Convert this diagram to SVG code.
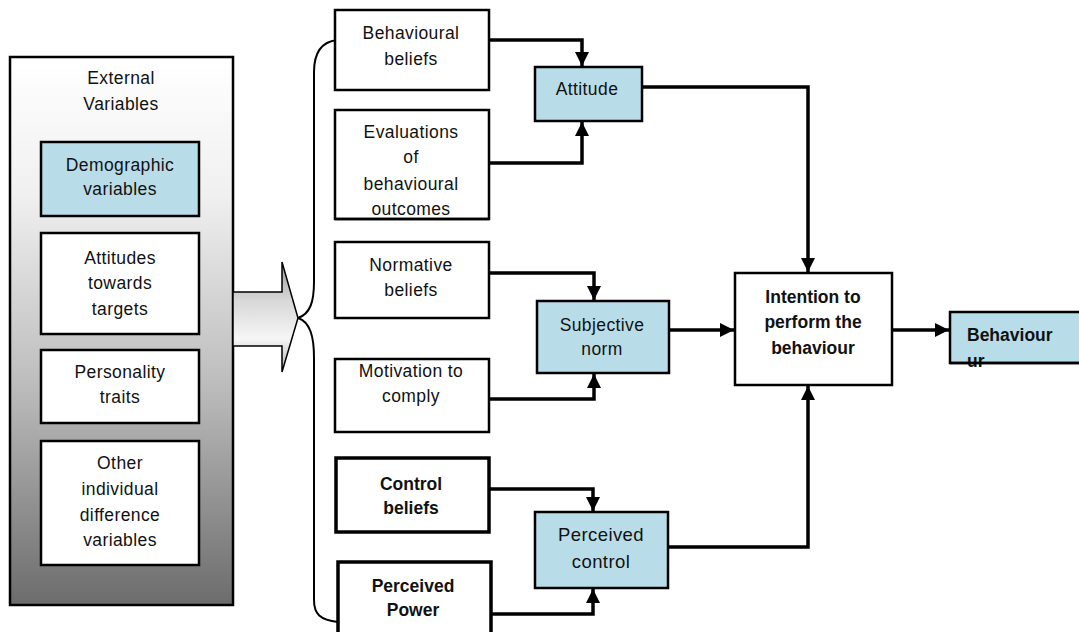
<svg xmlns="http://www.w3.org/2000/svg" width="1079" height="632" viewBox="0 0 1079 632">
<style>
text{font-family:"Liberation Sans",Arial,sans-serif;font-size:17.5px;letter-spacing:0.4px;fill:#111;text-anchor:middle}
.b{font-weight:bold;letter-spacing:0}
.box{fill:#fff;stroke:#000;stroke-width:2.5}
.thick{stroke-width:3.5}
.blue{fill:#b9dde8;stroke:#000;stroke-width:2.5}
.con{fill:none;stroke:#000;stroke-width:3.5}
.brace{fill:none;stroke:#000;stroke-width:2}
</style>
<defs>
<linearGradient id="ext" x1="0" y1="0" x2="0" y2="1">
<stop offset="0" stop-color="#ffffff"/>
<stop offset="0.25" stop-color="#f0f0f0"/>
<stop offset="0.6" stop-color="#bcbcbc"/>
<stop offset="1" stop-color="#6c6c6c"/>
</linearGradient>
<linearGradient id="arr" x1="0" y1="0" x2="0" y2="1">
<stop offset="0" stop-color="#9a9a9a"/>
<stop offset="0.35" stop-color="#d8d8d8"/>
<stop offset="0.7" stop-color="#f6f6f6"/>
<stop offset="1" stop-color="#b0b0b0"/>
</linearGradient>
<marker id="ah" viewBox="0 0 10 10" refX="10" refY="5" markerWidth="4" markerHeight="4" orient="auto" markerUnits="strokeWidth">
<path d="M0,0 L10,5 L0,10 z" fill="#000"/>
</marker>
</defs>
<rect width="1079" height="632" fill="#fff"/>

<g id="external">
<rect x="10" y="57" width="223" height="548" fill="url(#ext)" stroke="#000" stroke-width="2.5"/>
<text x="121" y="84">External</text>
<text x="121" y="110">Variables</text>
</g>
<g id="demographic">
<rect class="blue" x="41" y="142" width="158" height="74"/>
<text x="120" y="171">Demographic</text>
<text x="120" y="195">variables</text>
</g>
<g id="attitudes-targets">
<rect class="box" x="41" y="233" width="158" height="101"/>
<text x="120" y="264">Attitudes</text>
<text x="120" y="289">towards</text>
<text x="120" y="315">targets</text>
</g>
<g id="personality">
<rect class="box" x="41" y="350" width="158" height="73"/>
<text x="120" y="378">Personality</text>
<text x="120" y="403">traits</text>
</g>
<g id="other">
<rect class="box" x="41" y="441" width="158" height="124"/>
<text x="120" y="469">Other</text>
<text x="120" y="495">individual</text>
<text x="120" y="521">difference</text>
<text x="120" y="546">variables</text>
</g>

<g id="block-arrow">
<polygon points="233,292 282,292 282,262 298,318 282,372 282,346 233,346" fill="url(#arr)" stroke="#000" stroke-width="1.5"/>
</g>

<g id="connectors">
<path class="brace" d="M337,40 C320,42 314,55 314,72 L314,282 C314,302 310,314 298,318"/>
<path class="brace" d="M298,318 C310,322 314,336 314,358 L314,600 C314,614 320,620 338,622"/>
<path class="con" d="M489,40 H582 V66" marker-end="url(#ah)"/>
<path class="con" d="M489,163 H582 V122" marker-end="url(#ah)"/>
<path class="con" d="M642,87 H808 V272" marker-end="url(#ah)"/>
<path class="con" d="M489,273 H594 V300" marker-end="url(#ah)"/>
<path class="con" d="M489,399 H594 V374" marker-end="url(#ah)"/>
<path class="con" d="M669,330 H734" marker-end="url(#ah)"/>
<path class="con" d="M489,489 H593 V511" marker-end="url(#ah)"/>
<path class="con" d="M491,614 H593 V589" marker-end="url(#ah)"/>
<path class="con" d="M668,547 H808 V386" marker-end="url(#ah)"/>
<path class="con" d="M892,330 H949" marker-end="url(#ah)"/>
</g>

<g id="behavioural-beliefs">
<rect class="box" x="335" y="10" width="154" height="80"/>
<text x="411" y="39">Behavioural</text>
<text x="411" y="65">beliefs</text>
</g>
<g id="evaluations">
<rect class="box" x="335" y="110" width="154" height="109"/>
<text x="411" y="138">Evaluations</text>
<text x="411" y="163">of</text>
<text x="411" y="190">behavioural</text>
<text x="411" y="215">outcomes</text>
<line x1="335" y1="219" x2="489" y2="219" stroke="#000" stroke-width="2.5"/>
</g>
<g id="normative-beliefs">
<rect class="box" x="335" y="242" width="154" height="76"/>
<text x="411" y="271">Normative</text>
<text x="411" y="296">beliefs</text>
</g>
<g id="motivation">
<rect class="box" x="335" y="359" width="154" height="73"/>
<text x="411" y="377">Motivation to</text>
<text x="411" y="402">comply</text>
</g>
<g id="control-beliefs">
<rect class="box thick" x="336" y="458" width="153" height="74"/>
<text class="b" x="411" y="490">Control</text>
<text class="b" x="411" y="514">beliefs</text>
</g>
<g id="perceived-power">
<rect class="box thick" x="338" y="562" width="153" height="80"/>
<text class="b" x="413" y="592">Perceived</text>
<text class="b" x="413" y="616">Power</text>
</g>

<g id="attitude">
<rect class="blue" x="535" y="67" width="107" height="54"/>
<text x="587" y="95">Attitude</text>
</g>
<g id="subjective-norm">
<rect class="blue" x="537" y="301" width="132" height="72"/>
<text x="602" y="331">Subjective</text>
<text x="602" y="355">norm</text>
</g>
<g id="perceived-control">
<rect class="blue" x="535" y="512" width="133" height="76"/>
<text x="601" y="541" style="font-size:18.5px">Perceived</text>
<text x="601" y="568" style="font-size:18.5px">control</text>
</g>

<g id="intention">
<rect class="box" x="735" y="273" width="157" height="112"/>
<text class="b" x="813" y="303">Intention to</text>
<text class="b" x="813" y="328">perform the</text>
<text class="b" x="813" y="354">behaviour</text>
</g>
<g id="behaviour">
<rect class="blue" x="950" y="312" width="140" height="51"/>
<text class="b" x="967" y="341" style="text-anchor:start">Behaviour</text>
<text class="b" x="967" y="367" style="text-anchor:start">ur</text>
<line x1="950" y1="363" x2="1079" y2="363" stroke="#000" stroke-width="2.5"/>
</g>
</svg>
